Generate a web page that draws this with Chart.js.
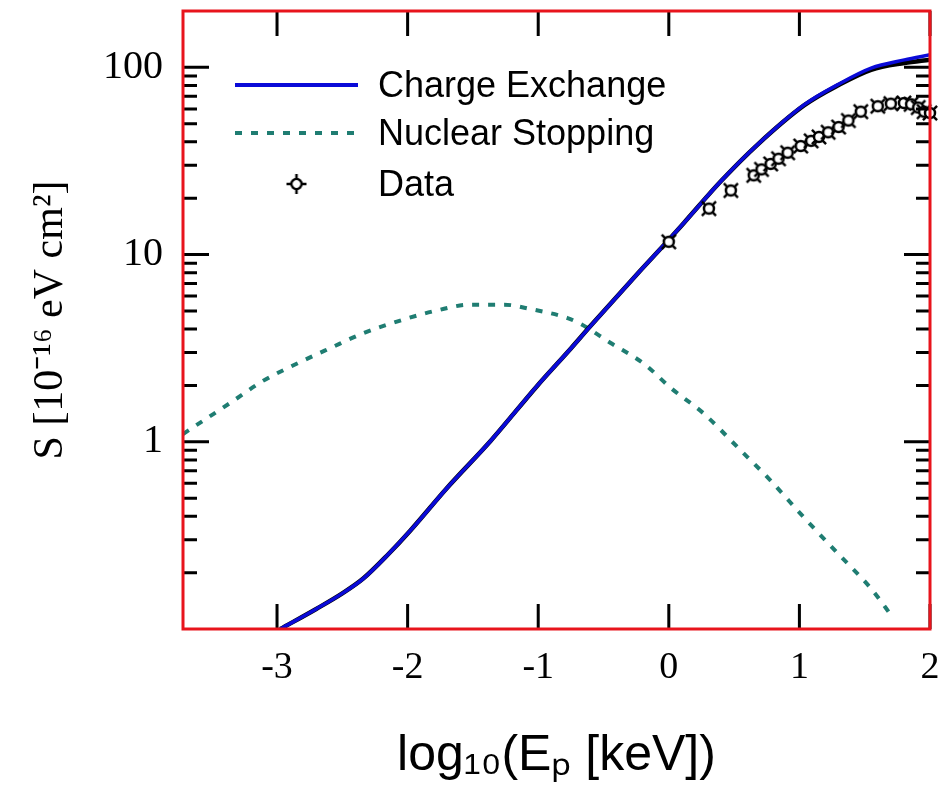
<!DOCTYPE html>
<html>
<head>
<meta charset="utf-8">
<script src="https://cdn.jsdelivr.net/npm/chart.js@4/dist/chart.umd.min.js"></script>
<style>
  html, body { margin: 0; padding: 0; background: #fff; }
  #wrap { width: 949px; height: 796px; }
</style>
</head>
<body>
<div id="wrap"><canvas id="c" width="949" height="796"></canvas></div>
<script>
// ---------- data ----------
const xTicks = [-3, -2, -1, 0, 1, 2];
const yTicks = [0.1, 0.2, 0.3, 0.4, 0.5, 0.6, 0.7, 0.8, 0.9, 1, 2, 3, 4, 5, 6, 7, 8, 9, 10, 20, 30, 40, 50, 60, 70, 80, 90, 100, 200];
const yLabels = [1, 10, 100];

// Charge exchange (blue)
const ceX = [-2.975, -2.7, -2.5, -2.34, -2.15, -1.98, -1.695, -1.365, -1.005, -0.75, -0.6, -0.24, 0.0, 0.117, 0.4, 0.68, 1.038, 1.294, 1.549, 1.804, 2.0];
const ceY = [0.1, 0.128, 0.155, 0.186, 0.25, 0.335, 0.57, 1.01, 2.0, 3.15, 4.15, 7.9, 12.0, 14.8, 24.7, 38.7, 63.2, 80.9, 99.1, 109.6, 116.8];

// companion black curve (drawn beneath the blue one)
const totX = [-2.975, -2.7, -2.5, -2.34, -2.15, -1.98, -1.695, -1.365, -1.005, -0.75, -0.6, -0.24, 0.0, 0.117, 0.4, 0.68, 1.038, 1.294, 1.549, 1.804, 2.0];
const totY = [0.1, 0.128, 0.155, 0.186, 0.25, 0.335, 0.57, 1.01, 2.0, 3.15, 4.15, 7.9, 12.0, 14.8, 24.7, 38.7, 62.8, 80.0, 97.0, 105.5, 110.0];

// Nuclear stopping (teal dashed)
const nsX = [-3.72, -3.57, -3.36, -3.11, -2.85, -2.59, -2.34, -2.03, -1.77, -1.52, -1.26, -1.06, -0.775, -0.675, -0.445, -0.19, 0.015, 0.27, 0.53, 0.78, 1.035, 1.295, 1.55, 1.72];
const nsY = [1.10, 1.29, 1.61, 2.11, 2.61, 3.17, 3.80, 4.50, 5.04, 5.40, 5.40, 5.12, 4.58, 4.26, 3.37, 2.61, 1.94, 1.41, 0.93, 0.62, 0.394, 0.253, 0.164, 0.114];

// Measured data
const dX = [0.0, 0.307, 0.475, 0.65, 0.71, 0.78, 0.84, 0.91, 1.01, 1.09, 1.15, 1.22, 1.30, 1.375, 1.47, 1.60, 1.70, 1.80, 1.855, 1.91, 1.955, 2.0];
const dY = [11.7, 17.6, 22.0, 26.5, 28.5, 30.5, 32.5, 35.0, 38.0, 40.5, 42.5, 45.0, 48.0, 52.0, 58.0, 62.0, 64.0, 64.5, 63.5, 61.0, 58.0, 57.0];

const labels = { ce: 'Charge Exchange', ns: 'Nuclear Stopping', data: 'Data' };

// ---------- styling ----------
const BLUE = '#0a0ad8';
const TEAL = '#1f7d72';
const RED = '#e8141c';

function pts(xs, ys) { return xs.map((x, i) => ({ x: x, y: ys[i] })); }

function makeMarker(rot) {
  const c = document.createElement('canvas');
  c.width = 24; c.height = 24;
  const g = c.getContext('2d');
  g.translate(12, 12);
  g.rotate(rot);
  g.strokeStyle = '#000';
  g.lineWidth = 2.5;
  for (let k = 0; k < 4; k++) {
    const a = Math.PI / 4 + k * Math.PI / 2;
    g.beginPath();
    g.moveTo(Math.cos(a) * 5, Math.sin(a) * 5);
    g.lineTo(Math.cos(a) * 10, Math.sin(a) * 10);
    g.stroke();
  }
  g.beginPath();
  g.arc(0, 0, 5, 0, Math.PI * 2);
  g.fillStyle = '#fff';
  g.fill();
  g.stroke();
  return c;
}
const dataMarker = makeMarker(0);
const legendMarker = makeMarker(Math.PI / 4);

const framePlugin = {
  id: 'frame',
  afterDraw(chart) {
    const ctx = chart.ctx;
    const a = chart.chartArea;
    const xs = chart.scales.x, ys = chart.scales.y;
    ctx.save();
    ctx.strokeStyle = '#000';
    ctx.lineWidth = 3;
    ctx.lineCap = 'butt';
    ys.ticks.forEach(t => {
      const p = ys.getPixelForValue(t.value);
      if (p <= a.top + 2 || p >= a.bottom - 2) return;
      const len = yLabels.includes(t.value) ? 26 : 14;
      ctx.beginPath();
      ctx.moveTo(a.left, p); ctx.lineTo(a.left + len, p);
      ctx.moveTo(a.right, p); ctx.lineTo(a.right - len, p);
      ctx.stroke();
    });
    xs.ticks.forEach(t => {
      const p = xs.getPixelForValue(t.value);
      ctx.beginPath();
      ctx.moveTo(p, a.bottom); ctx.lineTo(p, a.bottom - 25);
      ctx.moveTo(p, a.top); ctx.lineTo(p, a.top + 25);
      ctx.stroke();
    });
    // red frame
    ctx.strokeStyle = RED;
    ctx.lineWidth = 3;
    ctx.strokeRect(a.left, a.top, a.right - a.left, a.bottom - a.top);

    // legend inside the plot
    const ds = chart.data.datasets;
    const lx0 = a.left + 52, lx1 = a.left + 175, tx = a.left + 195;
    const rows = [a.top + 74, a.top + 122, a.top + 173];
    ctx.font = '36px "Liberation Sans", Arial, sans-serif';
    ctx.textBaseline = 'middle';
    ctx.fillStyle = '#000';
    ctx.strokeStyle = ds[0].borderColor; ctx.lineWidth = 4; ctx.setLineDash([]);
    ctx.beginPath(); ctx.moveTo(lx0, rows[0]); ctx.lineTo(lx1, rows[0]); ctx.stroke();
    ctx.fillText(ds[0].label, tx, rows[0] + 2);
    ctx.strokeStyle = ds[2].borderColor; ctx.lineWidth = 4; ctx.setLineDash([7, 9]);
    ctx.beginPath(); ctx.moveTo(lx0, rows[1]); ctx.lineTo(lx1, rows[1]); ctx.stroke();
    ctx.setLineDash([]);
    ctx.fillText(ds[2].label, tx, rows[1] + 2);
    ctx.drawImage(legendMarker, (lx0 + lx1) / 2 - 12, rows[2] - 12);
    ctx.fillText(ds[3].label, tx, rows[2] + 2);
    ctx.restore();
  }
};

new Chart(document.getElementById('c'), {
  type: 'scatter',
  data: {
    datasets: [
      { label: labels.ce, data: pts(ceX, ceY), showLine: true, borderColor: BLUE, borderWidth: 3.5,
        pointRadius: 0, cubicInterpolationMode: 'monotone', order: 1 },
      { label: '', data: pts(totX, totY), showLine: true, borderColor: '#000', borderWidth: 4.5,
        pointRadius: 0, cubicInterpolationMode: 'monotone', order: 2 },
      { label: labels.ns, data: pts(nsX, nsY), showLine: true, borderColor: TEAL, borderWidth: 4,
        borderDash: [7, 9], pointRadius: 0, cubicInterpolationMode: 'monotone', order: 3 },
      { label: labels.data, data: pts(dX, dY), showLine: false, pointStyle: dataMarker,
        pointRadius: 10, order: 0, clip: false }
    ]
  },
  options: {
    responsive: false,
    animation: false,
    devicePixelRatio: 1,
    layout: { padding: { top: 9, right: 19, left: 0, bottom: 0 } },
    plugins: { legend: { display: false }, tooltip: { enabled: false } },
    scales: {
      x: {
        type: 'linear', min: -3.72, max: 2.0,
        grid: { display: false, drawTicks: false },
        border: { display: false },
        afterBuildTicks: s => { s.ticks = xTicks.map(v => ({ value: v })); },
        afterFit: s => { s.height = 167; s.paddingLeft = 0; s.paddingRight = 0; },
        ticks: {
          autoSkip: false, maxRotation: 0, padding: 16, color: '#000',
          font: { family: '"Liberation Serif", "Times New Roman", serif', size: 38 },
          callback: v => String(v)
        },
        title: {
          display: true, text: 'log₁₀(Eₚ [keV])', color: '#000',
          font: { family: '"Liberation Sans", Arial, sans-serif', size: 50 },
          padding: { top: 0, bottom: 10 }
        }
      },
      y: {
        type: 'logarithmic', min: 0.1, max: 200,
        grid: { display: false, drawTicks: false },
        border: { display: false },
        afterBuildTicks: s => { s.ticks = yTicks.map(v => ({ value: v })); },
        afterFit: s => { s.width = 183; s.paddingTop = 0; s.paddingBottom = 0; },
        ticks: {
          autoSkip: false, padding: 20, color: '#000',
          font: { family: '"Liberation Serif", "Times New Roman", serif', size: 40 },
          callback: v => (yLabels.includes(v) ? String(v) : '')
        },
        title: {
          display: true, text: 'S [10⁻¹⁶ eV cm²]', color: '#000',
          font: { family: '"Liberation Serif", "Times New Roman", serif', size: 42 },
          padding: { top: 26, bottom: 0 }
        }
      }
    }
  },
  plugins: [framePlugin]
});
</script>
</body>
</html>
